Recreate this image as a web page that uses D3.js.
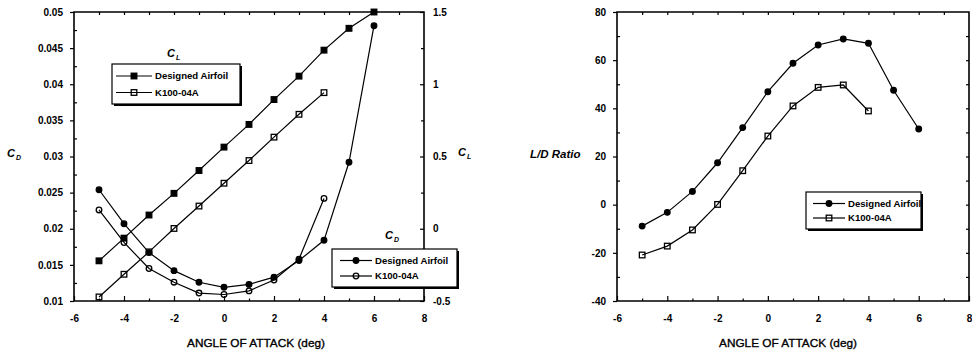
<!DOCTYPE html>
<html>
<head>
<meta charset="utf-8">
<script src="https://cdn.jsdelivr.net/npm/d3@7"></script>
<style>
  html, body { margin: 0; padding: 0; background: #fff; }
  svg { display: block; font-family: "Liberation Sans", Arial, sans-serif; }
  .tick text { font-weight: bold; font-size: 10px; fill: #000; }
  .tick line { stroke: #000; stroke-width: 1.2; }
</style>
</head>
<body>
<svg id="chart" width="972" height="351"></svg>
<script>
// Angle of attack (deg)
const anglesDesigned = [-5, -4, -3, -2, -1, 0, 1, 2, 3, 4, 5, 6];
const anglesK100 = [-5, -4, -3, -2, -1, 0, 1, 2, 3, 4];

// Lift coefficient
const clDesigned = [-0.222, -0.065, 0.095, 0.245, 0.403, 0.565, 0.722, 0.894, 1.056, 1.236, 1.387, 1.5];
const clK100 = [-0.472, -0.315, -0.16, 0.002, 0.157, 0.315, 0.472, 0.634, 0.792, 0.942];

// Drag coefficient
const cdDesigned = [0.0254, 0.0207, 0.0167, 0.0142, 0.0126, 0.0119, 0.0123, 0.0133, 0.0156, 0.0184, 0.0292, 0.0481];
const cdK100 = [0.0226, 0.0181, 0.0145, 0.0126, 0.0111, 0.0109, 0.0114, 0.0129, 0.0158, 0.0242];

// Lift-to-drag ratio
const ldDesigned = [-8.9, -3.2, 5.5, 17.4, 32.0, 46.9, 58.7, 66.3, 68.8, 67.0, 47.5, 31.4];
const ldK100 = [-20.9, -17.2, -10.5, 0.1, 14.1, 28.5, 41.0, 48.7, 49.7, 38.9];

// Tick values and labels
const xTicks = [-6, -4, -2, 0, 2, 4, 6, 8];
const xTickLabels = ["-6", "-4", "-2", "0", "2", "4", "6", "8"];
const cdTicks = [0.01, 0.015, 0.02, 0.025, 0.03, 0.035, 0.04, 0.045, 0.05];
const cdTickLabels = ["0.01", "0.015", "0.02", "0.025", "0.03", "0.035", "0.04", "0.045", "0.05"];
const clTicks = [-0.5, 0, 0.5, 1, 1.5];
const clTickLabels = ["-0.5", "0", "0.5", "1", "1.5"];
const ldTicks = [-40, -20, 0, 20, 40, 60, 80];
const ldTickLabels = ["-40", "-20", "0", "20", "40", "60", "80"];
const seriesNames = ["Designed Airfoil", "K100-04A"];

const svg = d3.select("#chart");

// Scales
const xL = d3.scaleLinear().domain([-6, 8]).range([74, 424]);
const yCD = d3.scaleLinear().domain([0.01, 0.05]).range([301, 12]);
const yCL = d3.scaleLinear().domain([-0.5, 1.5]).range([301, 12]);
const xR = d3.scaleLinear().domain([-6, 8]).range([617, 969]);
const yLD = d3.scaleLinear().domain([-40, 80]).range([301, 12]);

const range = (a, b, s) => d3.range(a, b + s / 2, s);
const noDomain = g => g.select(".domain").remove();

function labelFmt(values, labels) {
  return d => labels[values.findIndex(v => Math.abs(v - d) < 1e-9)];
}

// Frame with tick marks for one panel
function frame(x, y, yTicks, yLabels, yMinor, rightAxis) {
  const [x0, x1] = x.range();
  const [y1, y0] = y.range();
  // bottom: labelled ticks pointing inward
  svg.append("g").attr("transform", `translate(0,${y1})`)
    .call(d3.axisBottom(x).tickValues(xTicks).tickSize(-5).tickPadding(14)
      .tickFormat(labelFmt(xTicks, xTickLabels)))
    .call(noDomain);
  svg.append("g").attr("transform", `translate(0,${y1})`)
    .call(d3.axisBottom(x).tickValues(range(-5, 7, 2)).tickSize(-2.5).tickFormat(""))
    .call(noDomain);
  // top: small ticks every degree
  svg.append("g").attr("transform", `translate(0,${y0})`)
    .call(d3.axisTop(x).tickValues(range(-5, 7, 1)).tickSize(-3).tickFormat(""))
    .call(noDomain);
  // left: labelled ticks outward, minor inward
  svg.append("g").attr("transform", `translate(${x0},0)`)
    .call(d3.axisLeft(y).tickValues(yTicks).tickSize(4).tickPadding(7)
      .tickFormat(labelFmt(yTicks, yLabels)))
    .call(noDomain);
  svg.append("g").attr("transform", `translate(${x0},0)`)
    .call(d3.axisLeft(y).tickValues(yMinor).tickSize(-3).tickFormat(""))
    .call(noDomain);
  if (rightAxis) rightAxis();
  // border
  svg.append("path")
    .attr("d", `M${x0},${y0}H${x1}V${y1}H${x0}Z`)
    .attr("fill", "none").attr("stroke", "#000").attr("stroke-width", 1.6);
}

// Left panel: CD (left axis) and CL (right axis)
frame(xL, yCD, cdTicks, cdTickLabels, range(0.0125, 0.0475, 0.005), () => {
  svg.append("g").attr("transform", `translate(${xL.range()[1]},0)`)
    .call(d3.axisRight(yCL).tickValues(clTicks).tickSize(-4).tickPadding(9)
      .tickFormat(labelFmt(clTicks, clTickLabels)))
    .call(noDomain);
  svg.append("g").attr("transform", `translate(${xL.range()[1]},0)`)
    .call(d3.axisRight(yCL).tickValues(range(-0.25, 1.25, 0.5)).tickSize(-3).tickFormat(""))
    .call(noDomain);
});

// Right panel: L/D
frame(xR, yLD, ldTicks, ldTickLabels, range(-30, 70, 20), () => {
  svg.append("g").attr("transform", `translate(${xR.range()[1]},0)`)
    .call(d3.axisRight(yLD).tickValues(range(-30, 70, 10)).tickSize(-3).tickFormat(""))
    .call(noDomain);
});

// Markers
function marker(g, kind, cx, cy) {
  if (kind === "fcircle" || kind === "ocircle") {
    g.append("circle").attr("cx", cx).attr("cy", cy).attr("r", 2.8)
      .attr("fill", kind === "fcircle" ? "#000" : "none")
      .attr("stroke", "#000").attr("stroke-width", 1.3);
  } else {
    g.append("rect").attr("x", cx - 2.8).attr("y", cy - 2.8)
      .attr("width", 5.6).attr("height", 5.6)
      .attr("fill", kind === "fsquare" ? "#000" : "none")
      .attr("stroke", "#000").attr("stroke-width", 1.3);
  }
}

function series(xs, ys, x, y, kind) {
  const g = svg.append("g");
  const pts = xs.map((a, i) => [x(a), y(ys[i])]);
  g.append("path").attr("d", d3.line()(pts))
    .attr("fill", "none").attr("stroke", "#000").attr("stroke-width", 1.2);
  pts.forEach(p => marker(g, kind, p[0], p[1]));
}

series(anglesDesigned, clDesigned, xL, yCL, "fsquare");
series(anglesK100, clK100, xL, yCL, "osquare");
series(anglesDesigned, cdDesigned, xL, yCD, "fcircle");
series(anglesK100, cdK100, xL, yCD, "ocircle");
series(anglesDesigned, ldDesigned, xR, yLD, "fcircle");
series(anglesK100, ldK100, xR, yLD, "osquare");

// Legend box with drop shadow
function legend(x0, y0, w, h, kinds, lineX0, lineX1, textX, rowY) {
  const g = svg.append("g");
  g.append("rect").attr("x", x0 + 2).attr("y", y0 + 2).attr("width", w).attr("height", h).attr("fill", "#000");
  g.append("rect").attr("x", x0).attr("y", y0).attr("width", w).attr("height", h)
    .attr("fill", "#fff").attr("stroke", "#000").attr("stroke-width", 1.2);
  kinds.forEach((k, i) => {
    const yy = rowY[i];
    g.append("line").attr("x1", lineX0).attr("x2", lineX1).attr("y1", yy).attr("y2", yy)
      .attr("stroke", "#000").attr("stroke-width", 1.2);
    marker(g, k, (lineX0 + lineX1) / 2, yy);
    g.append("text").attr("x", textX).attr("y", yy).attr("dy", "0.36em")
      .attr("font-size", 9.6).attr("font-weight", "bold").text(seriesNames[i]);
  });
}

legend(112, 64, 128, 40, ["fsquare", "osquare"], 116, 152, 155, [76, 92.5]);
legend(332, 249, 125, 38, ["fcircle", "ocircle"], 340, 372, 375, [260.5, 276]);
legend(806, 192, 115, 37, ["fcircle", "osquare"], 813, 845, 848, [203.5, 218]);

// Coefficient labels with subscripts
function coefLabel(x, y, sub) {
  const t = svg.append("text").attr("x", x).attr("y", y)
    .attr("font-size", 11).attr("font-weight", "bold").attr("font-style", "italic");
  t.append("tspan").text("C");
  t.append("tspan").attr("font-size", 7).attr("dy", 3).attr("dx", 1).text(sub);
}
coefLabel(7, 157, "D");
coefLabel(167, 57, "L");
coefLabel(385, 239, "D");
coefLabel(458, 156, "L");

svg.append("text").attr("x", 530).attr("y", 157.5)
  .attr("font-size", 11.5).attr("font-weight", "bold").attr("font-style", "italic")
  .text("L/D Ratio");

// Axis titles
[[xL, 256], [xR, 788]].forEach(([x, cx]) => {
  svg.append("text").attr("x", cx).attr("y", 347).attr("text-anchor", "middle")
    .attr("font-size", 11.8).attr("stroke", "#000").attr("stroke-width", 0.35)
    .text("ANGLE OF ATTACK (deg)");
});
</script>
</body>
</html>
